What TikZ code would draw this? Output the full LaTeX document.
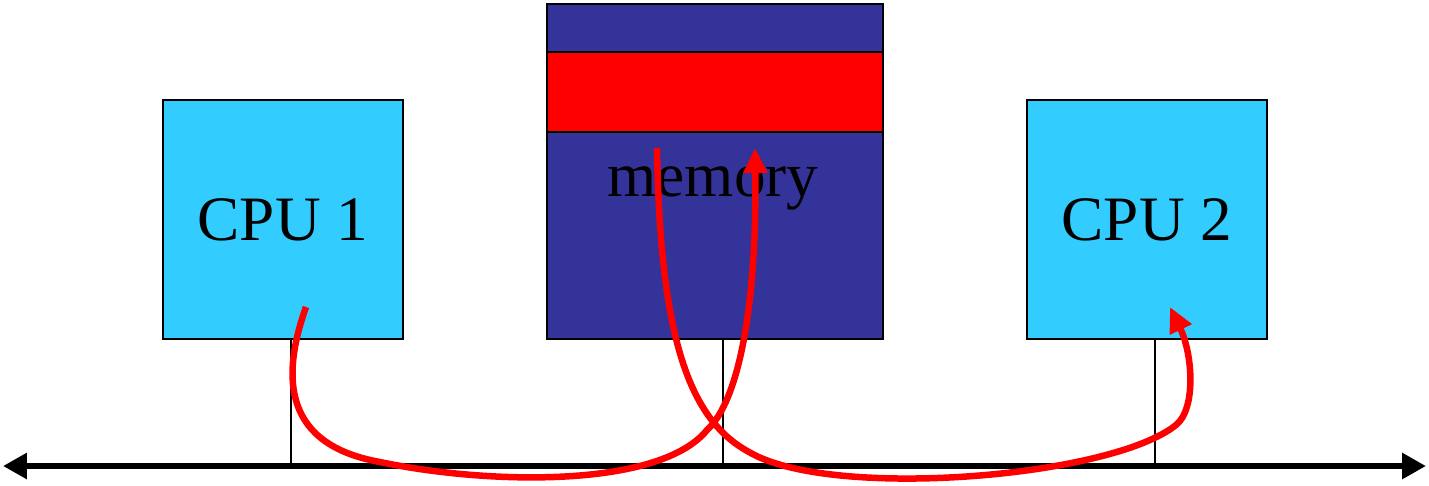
\documentclass[tikz,border=0pt]{standalone}
\usepackage{fontspec}
\setmainfont{Liberation Serif}
\usetikzlibrary{arrows.meta,calc}
\definecolor{cpucyan}{HTML}{33CCFF}
\definecolor{memblue}{HTML}{333399}

\begin{document}
\begin{tikzpicture}[x=0.02cm, y=-0.02cm,
    box/.style={draw=black, line width=1.1pt, inner sep=0pt, anchor=north west},
    cpu/.style={box, fill=cpucyan, minimum width=4.8cm, minimum height=4.78cm, font=\fontsize{36}{43}\selectfont},
    tap/.style={line width=1pt},
    bus/.style={line width=3.4pt, {Triangle[length=0.48cm,width=0.5cm]}-{Triangle[length=0.48cm,width=0.5cm]}},
    flow/.style={red, line width=3.7pt, -{Triangle[length=0.5cm,width=0.46cm]}}]
    \useasboundingbox (0,0) rectangle (1429,485);

    % CPUs
    \node[cpu] (cpuA) at (162,99) {CPU 1};
    \node[cpu] (cpuB) at (1026,99) {CPU 2};

    % Memory with the shared block
    \node[box, fill=memblue, minimum width=6.72cm, minimum height=6.7cm] (mem) at (546,3) {};
    \node[box, fill=red, minimum width=6.72cm, minimum height=1.6cm] (block) at (546,51) {};
    \node[anchor=base, font=\fontsize{36}{43}\selectfont] (memtxt) at (713,196) {memory};

    % Bus
    \coordinate (busL) at (3,466);
    \coordinate (busR) at (1426,466);
    \draw[bus] (busL) -- (busR);

    % Taps onto the bus
    \coordinate (tapA) at ($(cpuA.south)+(8,0)$);
    \coordinate (tapM) at ($(mem.south)+(8,0)$);
    \coordinate (tapB) at ($(cpuB.south)+(8,0)$);
    \draw[tap] (tapA) -- (tapA |- busL);
    \draw[tap] (tapM) -- (tapM |- busL);
    \draw[tap] (tapB) -- (tapB |- busL);

    % CPU 1 writes to memory
    \coordinate (outA) at (306,307);
    \coordinate (inM) at (755,148);
    \draw[flow] (outA) .. controls (280,380) and (285,445) .. (380,462)
        .. controls (490,485) and (660,488) .. (707,430)
        .. controls (740,400) and (757,300) .. (inM);

    % memory read by CPU 2
    \coordinate (outM) at (657,148);
    \coordinate (inB) at (1170,307);
    \draw[flow] (outM) .. controls (660,340) and (690,420) .. (749,452)
        .. controls (830,500) and (1110,478) .. (1176,425)
        .. controls (1196,409) and (1193,355) .. (inB);
\end{tikzpicture}
\end{document}
